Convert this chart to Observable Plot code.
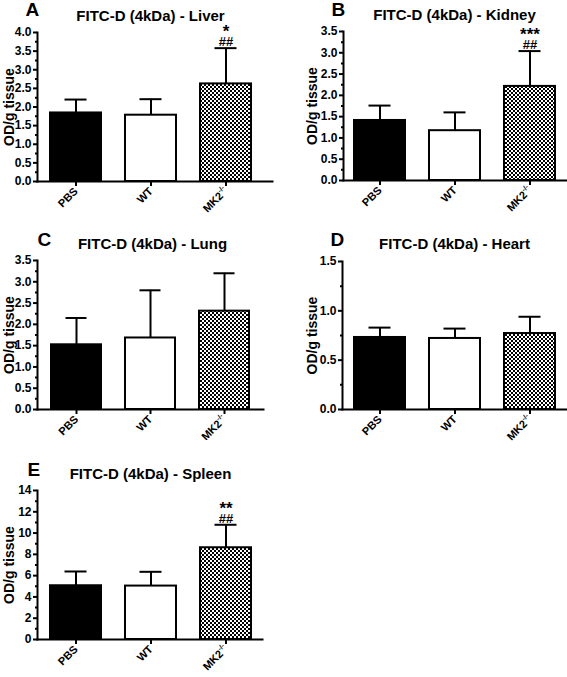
<!DOCTYPE html>
<html><head><meta charset="utf-8">
<script src="https://cdn.jsdelivr.net/npm/d3@7"></script>
<script src="https://cdn.jsdelivr.net/npm/@observablehq/plot@0.6"></script>
<style>
body{margin:0;background:#fff}
#fig{position:relative;width:567px;height:677px;background:#fff;overflow:hidden}
#fig > div{position:absolute}
svg{overflow:visible}
</style></head><body><div id="fig"></div>
<script>
// ---- data ----
const groups = ["PBS", "WT", "MK2-/-"];
const yLabel = "OD/g tissue";

const liverMean = [1.84, 1.78, 2.62];
const liverSem  = [0.36, 0.43, 0.96];
const liverStars  = ["", "", "*"];
const liverHashes = ["", "", "##"];

const kidneyMean = [1.41, 1.17, 2.21];
const kidneySem  = [0.35, 0.43, 0.83];
const kidneyStars  = ["", "", "***"];
const kidneyHashes = ["", "", "##"];

const lungMean = [1.52, 1.68, 2.31];
const lungSem  = [0.63, 1.12, 0.89];
const lungStars  = ["", "", ""];
const lungHashes = ["", "", ""];

const heartMean = [0.73, 0.72, 0.77];
const heartSem  = [0.10, 0.10, 0.17];
const heartStars  = ["", "", ""];
const heartHashes = ["", "", ""];

const spleenMean = [5.05, 5.02, 8.62];
const spleenSem  = [1.34, 1.34, 2.16];
const spleenStars  = ["", "", "**"];
const spleenHashes = ["", "", "##"];

const liverTicks  = [0, 0.5, 1.0, 1.5, 2.0, 2.5, 3.0, 3.5, 4.0];
const kidneyTicks = [0, 0.5, 1.0, 1.5, 2.0, 2.5, 3.0, 3.5];
const lungTicks   = [0, 0.5, 1.0, 1.5, 2.0, 2.5, 3.0, 3.5];
const heartTicks  = [0, 0.5, 1.0, 1.5];
const spleenTicks = [0, 2, 4, 6, 8, 10, 12, 14];

// ---- layout ----
const FONT = "'Liberation Sans', Arial, Helvetica, sans-serif";
const panels = [
  {letter: "A", title: "FITC-D (4kDa) - Liver", mean: liverMean, sem: liverSem, stars: liverStars, hashes: liverHashes,
   ticks: liverTicks, fmt: ".1f", left: 0, top: 0, width: 283, height: 220, frame: [37, 272, 32, 181], gap: 13,
   letterX: 25, letterY: 15, titleX: 150, titleY: 20, labelX: 9},
  {letter: "B", title: "FITC-D (4kDa) - Kidney", mean: kidneyMean, sem: kidneySem, stars: kidneyStars, hashes: kidneyHashes,
   ticks: kidneyTicks, fmt: ".1f", left: 283, top: 0, width: 284, height: 220, frame: [343, 566, 31, 180], gap: 11,
   letterX: 331, letterY: 15, titleX: 454, titleY: 19, labelX: 312},
  {letter: "C", title: "FITC-D (4kDa) - Lung", mean: lungMean, sem: lungSem, stars: lungStars, hashes: lungHashes,
   ticks: lungTicks, fmt: ".1f", left: 0, top: 220, width: 283, height: 220, frame: [37, 263, 260, 409], gap: 13,
   letterX: 37, letterY: 245, titleX: 152, titleY: 248, labelX: 9},
  {letter: "D", title: "FITC-D (4kDa) - Heart", mean: heartMean, sem: heartSem, stars: heartStars, hashes: heartHashes,
   ticks: heartTicks, fmt: ".1f", left: 283, top: 220, width: 284, height: 220, frame: [342, 566, 261, 409], gap: 12,
   letterX: 330, letterY: 245, titleX: 454, titleY: 248, labelX: 312},
  {letter: "E", title: "FITC-D (4kDa) - Spleen", mean: spleenMean, sem: spleenSem, stars: spleenStars, hashes: spleenHashes,
   ticks: spleenTicks, fmt: "d", left: 0, top: 440, width: 283, height: 237, frame: [37, 262, 490, 639], gap: 13,
   letterX: 27, letterY: 475, titleX: 150, titleY: 478, labelX: 9}
];

const fig = document.getElementById("fig");
const fills = ["black", "white", null];

panels.forEach((p, k) => {
  const [x0, x1, y0, y1] = p.frame;
  const rows = groups.map((g, i) => ({group: g, mean: p.mean[i], upper: p.mean[i] + p.sem[i], star: p.stars[i], hash: p.hashes[i]}));
  const annotated = rows.filter(r => r.star || r.hash);
  const majors = p.ticks;
  const minors = d3.pairs(majors).map(([a, b]) => (a + b) / 2);
  const yMax = majors[majors.length - 1];
  const W = x1 - x0, step = 75, bw = 51;
  const pi = 1 - bw / step;
  const outer = W - step * (groups.length - pi);
  const po = outer / 2 / step;
  const align = p.gap / outer;
  const patId = "checker" + k;

  const marks = [
    Plot.ruleX(rows, {x: "group", y1: "mean", y2: "upper", stroke: "black", strokeWidth: 2}),
    Plot.tickY(rows, {x: "group", y: "upper", stroke: "black", strokeWidth: 2, insetLeft: 14.5, insetRight: 14.5}),
    ...groups.map((g, i) => Plot.barY(rows.filter(r => r.group === g), {
      x: "group", y: "mean", fill: fills[i] || `url(#${patId})`, stroke: "black", strokeWidth: 2
    })),
    Plot.text(annotated, {x: "group", y: "upper", text: r => r.star + "|" + r.hash, dy: -2, lineAnchor: "bottom",
      fontSize: 13, fontWeight: "bold", fill: "black"}),
    Plot.axisY({ticks: minors, tickSize: 2, tickFormat: () => "", label: null, strokeWidth: 2}),
    Plot.axisY({ticks: majors, tickSize: 4, tickPadding: 2, tickFormat: d3.format(p.fmt), label: null, fontSize: 12, fontWeight: "bold", strokeWidth: 2}),
    Plot.axisX({tickSize: 5, tickPadding: 3, tickRotate: -45, label: null, fontSize: 11, fontWeight: "bold", strokeWidth: 2}),
    Plot.frame({anchor: "left", stroke: "black", strokeWidth: 2}),
    Plot.frame({anchor: "bottom", stroke: "black", strokeWidth: 2}),
    Plot.text([p.title], {text: d => d, frameAnchor: "top", dx: p.titleX - (x0 + x1) / 2, dy: p.titleY - y0,
      lineAnchor: "bottom", fontSize: 15, fontWeight: "bold", fill: "black"}),
    Plot.text([p.letter], {text: d => d, frameAnchor: "top-left", dx: p.letterX - x0, dy: p.letterY - y0,
      textAnchor: "start", lineAnchor: "bottom", fontSize: 19, fontWeight: "bold", fill: "black"}),
    Plot.text([yLabel], {text: d => d, frameAnchor: "left", rotate: -90, dx: p.labelX - x0,
      lineAnchor: "middle", textAnchor: "middle", fontSize: 14, fontWeight: "bold", fill: "black"})
  ];

  const svg = Plot.plot({
    width: p.width,
    height: p.height,
    marginLeft: x0 - p.left,
    marginRight: p.left + p.width - x1,
    marginTop: y0 - p.top,
    marginBottom: p.top + p.height - y1,
    style: {fontFamily: FONT, fontWeight: "bold", color: "black", background: "white", overflow: "visible"},
    x: {type: "band", domain: groups, paddingInner: pi, paddingOuter: po, align},
    y: {domain: [0, yMax]},
    marks
  });

  // checkerboard pattern
  const defs = d3.select(svg).insert("defs", ":first-child");
  const pat = defs.append("pattern").attr("id", patId).attr("patternUnits", "userSpaceOnUse")
    .attr("width", 4).attr("height", 4);
  pat.append("rect").attr("width", 4).attr("height", 4).attr("fill", "white");
  pat.append("rect").attr("width", 2).attr("height", 2).attr("fill", "black");
  pat.append("rect").attr("x", 2).attr("y", 2).attr("width", 2).attr("height", 2).attr("fill", "black");

  // superscript for MK2-/-
  d3.select(svg).selectAll("text").filter(function () { return this.textContent === "MK2-/-"; })
    .each(function () {
      const t = d3.select(this);
      t.text(null);
      t.append("tspan").text("MK2");
      t.append("tspan").attr("dy", -5).attr("font-size", 7).text("-/-");
    });

  // stacked significance marks: stars above hashes, in one text element
  d3.select(svg).selectAll("text").filter(function () { return this.textContent.includes("|"); })
    .each(function () {
      const t = d3.select(this);
      const [star, hash] = this.textContent.split("|");
      const x = this.getAttribute("x") || 0;
      t.text(null);
      if (star) t.append("tspan").attr("x", x).attr("dy", -9).attr("font-size", 17).text(star);
      if (hash) t.append("tspan").attr("x", x).attr("dy", star ? 9 : 0).text(hash);
    });

  const div = document.createElement("div");
  div.style.left = p.left + "px";
  div.style.top = p.top + "px";
  div.appendChild(svg);
  fig.appendChild(div);
});
</script>
</body></html>
